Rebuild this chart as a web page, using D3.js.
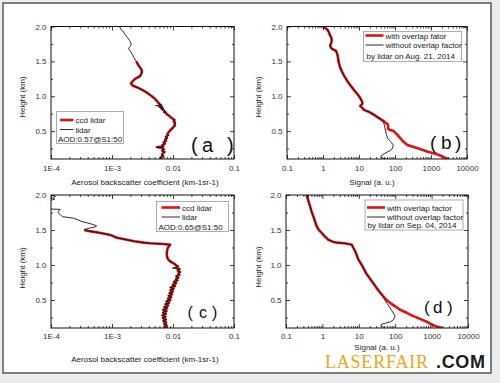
<!DOCTYPE html>
<html><head><meta charset="utf-8">
<script src="https://cdn.jsdelivr.net/npm/d3@7"></script>
<style>body{margin:0;background:#ececec;} svg{display:block;}</style>
</head><body><svg id="c" width="500" height="383"></svg>
<script>
// ---------- data ----------
const heightTicks = [0.5, 1.0, 1.5, 2.0];
const heightMinor = [0.25, 0.75, 1.25, 1.75];
const aerosolTicks = [1e-4, 1e-3, 1e-2, 1e-1];
const aerosolTickLabels = ["1E-4", "1E-3", "0.01", "0.1"];
const signalTicks = [0.1, 1, 10, 100, 1000, 10000];
const signalTickLabels = ["0.1", "1", "10", "100", "1000", "10000"];

// panel (a) [height km, backscatter]
const aLidar = [[2.00,1.33e-3],[1.96,1.40e-3],[1.92,1.55e-3],[1.88,1.65e-3],[1.84,1.80e-3],[1.80,1.94e-3],[1.76,2.05e-3],[1.73,2.04e-3],[1.70,1.92e-3],[1.68,1.87e-3],[1.65,1.98e-3],[1.60,2.15e-3],[1.56,2.26e-3],[1.50,2.50e-3],[1.44,2.73e-3],[1.40,2.95e-3],[1.37,3.10e-3],[1.33,3.05e-3],[1.29,2.91e-3],[1.25,2.40e-3],[1.21,2.15e-3],[1.18,2.04e-3],[1.15,2.21e-3],[1.12,2.70e-3],[1.08,3.30e-3],[1.04,3.90e-3],[1.00,4.50e-3],[0.96,5.10e-3],[0.92,5.60e-3],[0.89,5.90e-3],[0.875,6.6e-3],[0.865,5.2e-3],[0.855,6.8e-3],[0.845,5.8e-3],[0.83,7.1e-3],[0.82,6.3e-3],[0.80,7.0e-3],[0.78,7.6e-3],[0.77,6.9e-3],[0.76,7.8e-3],[0.74,8.0e-3],[0.72,8.7e-3],[0.70,9.2e-3],[0.68,9.8e-3],[0.66,1.09e-2],[0.64,1.00e-2],[0.62,1.12e-2],[0.60,1.04e-2],[0.58,1.10e-2],[0.56,1.00e-2],[0.54,9.9e-3],[0.52,9.0e-3],[0.50,8.9e-3],[0.48,8.3e-3],[0.46,8.2e-3],[0.44,8.6e-3],[0.42,7.4e-3],[0.40,8.2e-3],[0.38,7.2e-3],[0.36,8.0e-3],[0.34,6.8e-3],[0.32,7.6e-3],[0.30,6.5e-3],[0.28,7.1e-3],[0.27,5.2e-3],[0.26,6.7e-3],[0.24,7.3e-3],[0.22,6.5e-3],[0.20,7.5e-3],[0.18,6.7e-3],[0.16,6.4e-3],[0.14,7.1e-3],[0.12,6.1e-3],[0.10,6.7e-3]];
const aCcd = [[1.50,2.50e-3],[1.44,2.73e-3],[1.40,2.95e-3],[1.37,3.10e-3],[1.33,3.05e-3],[1.29,2.91e-3],[1.25,2.40e-3],[1.21,2.15e-3],[1.18,2.04e-3],[1.15,2.21e-3],[1.12,2.70e-3],[1.08,3.30e-3],[1.04,3.90e-3],[1.00,4.50e-3],[0.96,5.10e-3],[0.92,5.60e-3],[0.88,6.1e-3],[0.85,6.3e-3],[0.82,6.6e-3],[0.80,7.0e-3],[0.78,7.4e-3],[0.76,7.6e-3],[0.74,8.0e-3],[0.72,8.6e-3],[0.70,9.2e-3],[0.68,9.8e-3],[0.66,1.05e-2],[0.64,1.03e-2],[0.62,1.08e-2],[0.60,1.06e-2],[0.58,1.07e-2],[0.56,1.02e-2],[0.54,9.8e-3],[0.52,9.2e-3],[0.50,8.8e-3],[0.48,8.4e-3],[0.46,8.1e-3],[0.44,8.2e-3],[0.42,7.7e-3],[0.40,7.9e-3],[0.38,7.5e-3],[0.36,7.6e-3],[0.34,7.1e-3],[0.32,7.3e-3],[0.30,6.8e-3],[0.28,6.9e-3],[0.27,5.6e-3],[0.26,6.5e-3],[0.24,7.0e-3],[0.22,6.7e-3],[0.20,7.2e-3],[0.18,6.8e-3],[0.16,6.6e-3],[0.14,6.9e-3],[0.12,6.3e-3],[0.10,6.5e-3]];

// panel (b) [height km, signal]
const bCommon = [[2.00,1.0],[1.96,1.3],[1.92,1.45],[1.88,1.55],[1.84,1.7],[1.80,1.75],[1.76,1.68],[1.73,1.58],[1.70,1.65],[1.68,1.77],[1.65,2.3],[1.60,2.5],[1.56,2.6],[1.50,2.7],[1.45,2.85],[1.41,3.0],[1.35,3.4],[1.30,3.8],[1.27,4.1],[1.20,5.0],[1.13,6.3],[1.07,7.8],[1.01,9.7],[0.96,11.2],[0.91,12.5],[0.88,12],[0.86,10.8],[0.83,12.5],[0.81,13.3],[0.79,16],[0.77,20],[0.73,27],[0.69,35],[0.65,46]];
const bRedLow = [[0.62,55],[0.60,62],[0.57,65],[0.54,63],[0.52,70],[0.50,92],[0.45,115],[0.40,140],[0.35,170],[0.30,220],[0.25,450],[0.20,850],[0.175,1350],[0.15,1800],[0.12,2400],[0.10,3000]];
const bBlackLow = [[0.62,48],[0.60,50],[0.55,52],[0.50,55],[0.45,58],[0.40,62],[0.35,75],[0.30,90],[0.25,85],[0.22,72],[0.18,52],[0.15,42],[0.13,40],[0.11,48],[0.10,55]];

// panel (c) [height km, backscatter]
const cLidarTop = [[2.00,1.05e-4],[1.98,1.18e-4],[1.96,1.06e-4],[1.94,1.15e-4],[1.92,0.95e-4],[1.85,0.9e-4],[1.80,0.95e-4],[1.795,1.42e-4],[1.78,1.35e-4],[1.75,1.3e-4],[1.72,1.42e-4],[1.69,1.55e-4],[1.67,2.3e-4],[1.65,2.7e-4],[1.62,3.2e-4],[1.60,4.0e-4],[1.58,4.8e-4],[1.56,5.6e-4],[1.545,5.4e-4],[1.53,4.4e-4],[1.51,3.6e-4]];
const cCcd = [[1.50,3.5e-4],[1.48,4.5e-4],[1.46,6.2e-4],[1.44,8.3e-4],[1.42,1.0e-3],[1.39,1.2e-3],[1.36,1.76e-3],[1.34,2.3e-3],[1.32,3.3e-3],[1.31,4.2e-3],[1.30,7.0e-3],[1.29,9.0e-3],[1.27,8.6e-3],[1.24,8.2e-3],[1.20,8.0e-3],[1.16,7.9e-3],[1.12,8.0e-3],[1.08,8.3e-3],[1.05,9.0e-3],[1.02,1.05e-2],[1.00,1.1e-2],[0.98,1.2e-2],[0.96,1.15e-2],[0.94,1.28e-2],[0.92,1.2e-2],[0.90,1.3e-2],[0.88,1.22e-2],[0.86,1.27e-2],[0.84,1.15e-2],[0.82,1.22e-2],[0.80,1.12e-2],[0.78,1.18e-2],[0.76,1.05e-2],[0.74,1.12e-2],[0.72,1.0e-2],[0.70,1.08e-2],[0.68,9.4e-3],[0.66,1.02e-2],[0.64,9.2e-3],[0.62,9.9e-3],[0.60,8.9e-3],[0.58,9.6e-3],[0.56,8.6e-3],[0.54,9.3e-3],[0.52,8.3e-3],[0.50,9.0e-3],[0.48,7.9e-3],[0.46,8.6e-3],[0.44,7.6e-3],[0.42,8.3e-3],[0.40,7.3e-3],[0.38,8.0e-3],[0.36,7.0e-3],[0.34,7.8e-3],[0.32,6.9e-3],[0.30,7.6e-3],[0.28,6.8e-3],[0.26,7.5e-3],[0.24,6.9e-3],[0.22,7.6e-3],[0.20,7.0e-3],[0.18,7.7e-3],[0.16,7.2e-3],[0.14,7.8e-3],[0.12,7.3e-3],[0.10,8.0e-3]];
const cLidarLow = [[1.50,3.5e-4],[1.48,4.5e-4],[1.46,6.2e-4],[1.44,8.3e-4],[1.42,1.0e-3],[1.39,1.2e-3],[1.36,1.76e-3],[1.34,2.3e-3],[1.32,3.3e-3],[1.31,4.2e-3],[1.30,7.0e-3],[1.29,9.0e-3],[1.27,8.6e-3],[1.24,8.2e-3],[1.20,8.0e-3],[1.16,7.9e-3],[1.12,8.0e-3],[1.08,8.3e-3],[1.05,9.2e-3],[1.02,1.02e-2],[1.00,1.12e-2],[0.98,1.22e-2],[0.955,9.8e-3],[0.94,1.3e-2],[0.92,1.18e-2],[0.90,1.34e-2],[0.88,1.2e-2],[0.86,1.3e-2],[0.84,1.1e-2],[0.82,1.25e-2],[0.80,1.08e-2],[0.78,1.2e-2],[0.76,1.0e-2],[0.74,1.15e-2],[0.72,9.6e-3],[0.70,1.1e-2],[0.68,8.8e-3],[0.66,1.04e-2],[0.64,8.8e-3],[0.62,1.01e-2],[0.60,8.5e-3],[0.58,9.8e-3],[0.56,8.2e-3],[0.54,9.5e-3],[0.52,8.0e-3],[0.50,9.2e-3],[0.48,7.6e-3],[0.46,8.8e-3],[0.44,7.3e-3],[0.42,8.5e-3],[0.40,7.0e-3],[0.38,8.2e-3],[0.36,6.7e-3],[0.34,8.0e-3],[0.32,6.6e-3],[0.30,7.8e-3],[0.28,6.5e-3],[0.26,7.7e-3],[0.24,6.6e-3],[0.22,7.8e-3],[0.20,6.8e-3],[0.18,7.9e-3],[0.16,7.0e-3],[0.14,8.0e-3],[0.12,7.1e-3],[0.10,8.2e-3]];

// panel (d) [height km, signal]
const dCommon = [[2.00,0.37],[1.92,0.41],[1.84,0.457],[1.77,0.5],[1.70,0.56],[1.62,0.63],[1.55,0.70],[1.50,0.80],[1.46,0.955],[1.41,1.15],[1.36,1.46],[1.33,2.0],[1.32,2.47],[1.31,4.0],[1.30,5.2],[1.29,6.4],[1.25,7.0],[1.20,7.9],[1.14,8.8],[1.08,9.7],[1.02,11.5],[0.96,13.3],[0.88,16],[0.81,20],[0.74,25],[0.67,31],[0.61,38]];
const dRedLow = [[0.55,48],[0.50,58],[0.46,72],[0.41,100],[0.36,136],[0.31,220],[0.27,315],[0.23,480],[0.19,733],[0.15,1000],[0.12,1380],[0.10,2000]];
const dBlackLow = [[0.55,45],[0.50,52],[0.45,60],[0.40,70],[0.35,80],[0.30,92],[0.26,98],[0.22,90],[0.19,75],[0.17,55],[0.16,45],[0.14,40],[0.12,44],[0.10,52]];

// ---------- drawing ----------
const svg = d3.select("#c");
const FONT = "'Liberation Sans', Arial, sans-serif";
const RED = "#e31010", BLK = "#151515";

svg.append("rect").attr("x", 3).attr("y", 3).attr("width", 488).attr("height", 370)
  .attr("fill", "#fff").attr("stroke", "#555").attr("stroke-width", 1.5);

function logMinor(domain) {
  const out = [];
  const k0 = Math.round(Math.log10(domain[0])), k1 = Math.round(Math.log10(domain[1]));
  for (let k = k0; k < k1; k++) for (let m = 2; m <= 9; m++) out.push(m * Math.pow(10, k));
  return out;
}

function panel(o) {
  const g = svg.append("g");
  const x = d3.scaleLog().domain(o.xDomain).range([o.l, o.r]);
  const y = d3.scaleLinear().domain([0.1, 2.0]).range([o.b, o.t]);
  const clipId = "clip" + o.name;
  svg.append("clipPath").attr("id", clipId).append("rect")
    .attr("x", o.l).attr("y", o.t).attr("width", o.r - o.l).attr("height", o.b - o.t);
  const line = d3.line().x(d => x(d[1])).y(d => y(d[0]));
  g.append("path").datum(o.red).attr("d", line).attr("clip-path", `url(#${clipId})`)
    .attr("fill", "none").attr("stroke", RED).attr("stroke-width", 2.6).attr("stroke-linejoin", "round");
  g.append("path").datum(o.black).attr("d", line).attr("clip-path", `url(#${clipId})`)
    .attr("fill", "none").attr("stroke", BLK).attr("stroke-width", 0.9).attr("stroke-linejoin", "round");

  const minorX = logMinor(o.xDomain);
  g.append("g").attr("transform", `translate(0,${o.b})`)
    .call(d3.axisBottom(x).tickValues(o.xTicks).tickFormat((d, i) => o.xLabels[i]).tickSize(-4).tickPadding(o.xPad));
  g.append("g").attr("transform", `translate(0,${o.b})`)
    .call(d3.axisBottom(x).tickValues(minorX).tickFormat("").tickSize(-2));
  g.append("g").attr("transform", `translate(0,${o.t})`)
    .call(d3.axisTop(x).tickValues(o.xTicks).tickFormat("").tickSize(-4));
  g.append("g").attr("transform", `translate(0,${o.t})`)
    .call(d3.axisTop(x).tickValues(minorX).tickFormat("").tickSize(-2));
  g.append("g").attr("transform", `translate(${o.l},0)`)
    .call(d3.axisLeft(y).tickValues(heightTicks).tickFormat(d3.format(".1f")).tickSize(-4).tickPadding(4.5));
  g.append("g").attr("transform", `translate(${o.l},0)`)
    .call(d3.axisLeft(y).tickValues(heightMinor).tickFormat("").tickSize(-2));
  g.append("g").attr("transform", `translate(${o.r},0)`)
    .call(d3.axisRight(y).tickValues(heightTicks).tickFormat("").tickSize(-4));
  g.append("g").attr("transform", `translate(${o.r},0)`)
    .call(d3.axisRight(y).tickValues(heightMinor).tickFormat("").tickSize(-2));
  g.selectAll(".domain").remove();
  g.selectAll(".tick line").attr("stroke", "#111").attr("stroke-width", 0.8);
  g.selectAll(".tick text").attr("font-family", FONT).attr("font-size", 8).attr("fill", "#333");

  g.append("rect").attr("x", o.l).attr("y", o.t).attr("width", o.r - o.l).attr("height", o.b - o.t)
    .attr("fill", "none").attr("stroke", "#111").attr("stroke-width", 1);

  g.append("text").attr("transform", `translate(${o.yLabX},${o.yLabY}) rotate(-90)`)
    .attr("text-anchor", "middle").attr("font-family", FONT).attr("font-size", 8).attr("fill", "#222")
    .text("Height (km)");
  g.append("text").attr("x", o.xLabX).attr("y", o.xLabY).attr("text-anchor", "middle")
    .attr("font-family", FONT).attr("font-size", 8).attr("fill", "#222").text(o.xTitle);

  const L = o.legend;
  g.append("rect").attr("x", L.x).attr("y", L.y).attr("width", L.w).attr("height", L.h)
    .attr("fill", "#fff").attr("stroke", "#999").attr("stroke-width", 0.8);
  g.append("line").attr("x1", L.lx1).attr("x2", L.lx2).attr("y1", L.r1).attr("y2", L.r1)
    .attr("stroke", RED).attr("stroke-width", 2.6);
  g.append("line").attr("x1", L.lx1).attr("x2", L.lx2).attr("y1", L.r2).attr("y2", L.r2)
    .attr("stroke", BLK).attr("stroke-width", 0.9);
  const items = [[L.lx2 + 2, L.r1 + 3, L.t1], [L.lx2 + 2, L.r2 + 3, L.t2], [L.x3, L.r3, L.t3]];
  items.forEach(it => g.append("text").attr("x", it[0]).attr("y", it[1]).attr("font-family", FONT)
    .attr("font-size", 8).attr("fill", "#222").text(it[2]));

  const P = o.tag;
  const tg = g.append("text").attr("y", P.y).attr("font-family", FONT).attr("font-size", P.size).attr("fill", "#111");
  tg.append("tspan").attr("x", P.x[0]).attr("font-weight", 300).text("(");
  tg.append("tspan").attr("x", P.x[1]).text(P.letter);
  tg.append("tspan").attr("x", P.x[2]).attr("font-weight", 300).text(")");
}

panel({
  name: "a", xDomain: [1e-4, 0.1], l: 51, r: 234, t: 26.5, b: 159,
  xTicks: aerosolTicks, xLabels: aerosolTickLabels, xPad: 6,
  red: aCcd, black: aLidar,
  yLabX: 24.5, yLabY: 97, xLabX: 145, xLabY: 185, xTitle: "Aerosol backscatter coefficient (km-1sr-1)",
  legend: { x: 56.5, y: 111.5, w: 67, h: 32, lx1: 60, lx2: 73.5, r1: 120, r2: 129.5, x3: 58, r3: 141.5,
    t1: "ccd lidar", t2: "lidar", t3: "AOD:0.57@S1:50" },
  tag: { letter: "a", size: 20, y: 151.5, x: [191, 202, 227] }
});
panel({
  name: "b", xDomain: [0.1, 10000], l: 287, r: 467, t: 26.5, b: 159,
  xTicks: signalTicks, xLabels: signalTickLabels, xPad: 6,
  red: bCommon.concat(bRedLow), black: bCommon.concat(bBlackLow),
  yLabX: 261, yLabY: 97, xLabX: 372, xLabY: 185, xTitle: "Signal (a. u.)",
  legend: { x: 363.5, y: 31.5, w: 98, h: 30, lx1: 365.5, lx2: 383.5, r1: 35.5, r2: 45, x3: 366.5, r3: 58.5,
    t1: "with overlap fator", t2: "without overlap factor", t3: "by lidar on Aug. 21, 2014" },
  tag: { letter: "b", size: 19, y: 148.5, x: [430, 441, 455] }
});
panel({
  name: "c", xDomain: [1e-4, 0.1], l: 51, r: 234, t: 195, b: 328,
  xTicks: aerosolTicks, xLabels: aerosolTickLabels, xPad: 5.5,
  red: cCcd, black: cLidarTop.concat(cLidarLow),
  yLabX: 24.5, yLabY: 268, xLabX: 145, xLabY: 361.5, xTitle: "Aerosol backscatter coefficient (km-1sr-1)",
  legend: { x: 156.5, y: 201.5, w: 72, h: 30, lx1: 161.5, lx2: 180, r1: 207.5, r2: 217, x3: 158.5, r3: 229.5,
    t1: "ccd lidar", t2: "lidar", t3: "AOD:0.65@S1:50" },
  tag: { letter: "c", size: 16, y: 318, x: [187.5, 199, 212] }
});
panel({
  name: "d", xDomain: [0.1, 10000], l: 286, r: 468, t: 195, b: 328,
  xTicks: signalTicks, xLabels: signalTickLabels, xPad: 5,
  red: dCommon.concat(dRedLow), black: dCommon.concat(dBlackLow),
  yLabX: 261, yLabY: 267, xLabX: 377, xLabY: 349.5, xTitle: "Signal (a. u.)",
  legend: { x: 365, y: 200, w: 98, h: 30, lx1: 367, lx2: 385, r1: 207.5, r2: 217, x3: 367.5, r3: 228,
    t1: "with overlap factor", t2: "without overlap factor", t3: "by lidar on Sep. 04, 2014" },
  tag: { letter: "d", size: 17, y: 313, x: [424, 433, 447] }
});

// watermark
svg.append("text").attr("x", 325).attr("y", 367.5)
  .attr("font-family", "'Liberation Serif', 'Times New Roman', serif")
  .attr("font-size", 18).attr("fill", "#f2a516").attr("textLength", 103).text("LASERFAIR");
svg.append("text").attr("x", 436).attr("y", 367.5).attr("font-family", FONT).attr("font-weight", "bold")
  .attr("font-size", 18).attr("fill", "#1a1a1a").attr("textLength", 49).text(".COM");
</script></body></html>
